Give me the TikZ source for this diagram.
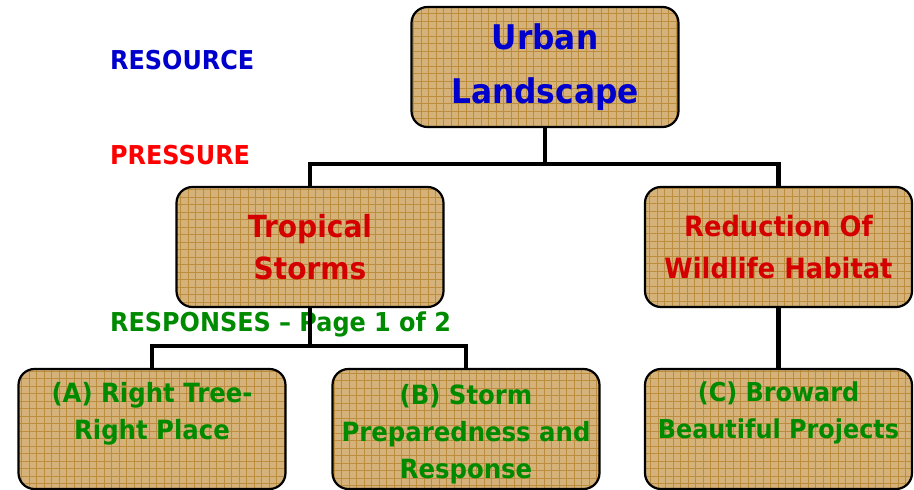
\documentclass[tikz,border=0pt]{standalone}
\usepackage{fontspec}
\setmainfont[FakeStretch=0.92]{DejaVu Sans}
\usetikzlibrary{positioning}

\definecolor{boxFill}{HTML}{D4B27A}
\definecolor{gridColour}{HTML}{BC8D3C}
\definecolor{resBlue}{HTML}{0000CC}
\definecolor{pressRed}{HTML}{FF0000}
\definecolor{boxRed}{HTML}{D40000}
\definecolor{respGreen}{HTML}{008A00}

\tikzset{
    box/.style={draw=black, line width=2.2pt, rounded corners=16pt, fill=boxFill,
        minimum width=267pt, minimum height=120pt, inner sep=0pt, align=center,
        path picture={\draw[gridColour, line width=0.7pt, step=7.5pt]
            (path picture bounding box.south west) grid (path picture bounding box.north east);}},
    conn/.style={line width=4.6pt},
    tagline/.style={anchor=west, inner sep=0pt, font=\bfseries\fontsize{26}{30}\selectfont}
}

\begin{document}
\begin{tikzpicture}[x=1pt, y=-1pt]
    \useasboundingbox (0,0) rectangle (914,490);

    % Side labels
    \node[tagline, resBlue] (resource) at (110,60) {RESOURCE};
    \node[tagline, pressRed] (pressure) at (110,155) {PRESSURE};
    \node[tagline, respGreen] (responses) at (110,324) {RESPONSES -- Page 1 of 2};

    % Resource
    \node[box, text=resBlue, font=\bfseries\fontsize{34}{54}\selectfont] (urban) at (545,67) {Urban\\Landscape};

    % Pressures
    \node[box, text=boxRed, font=\bfseries\fontsize{30.5}{42}\selectfont] (storms) at (310,247) {Tropical\\Storms};
    \node[box, text=boxRed, font=\bfseries\fontsize{28}{42}\selectfont] (habitat) at (778.5,247) {Reduction Of\\Wildlife Habitat};

    % Responses
    \node[box, text=respGreen, font=\bfseries\fontsize{26.5}{37}\selectfont] (treeA) at (152,429) {(A) Right Tree-\\Right Place\\~};
    \node[box, text=respGreen, font=\bfseries\fontsize{26.5}{37}\selectfont] (stormB) at (466,429) {\rule{0pt}{30pt}(B) Storm\\Preparedness and\\Response};
    \node[box, text=respGreen, font=\bfseries\fontsize{26}{37}\selectfont] (browardC) at (778.5,429) {(C) Broward\\Beautiful Projects\\~};

    % Connectors
    \draw[conn] (urban.south) -- ++(0,36) -| (storms.north);
    \draw[conn] (urban.south) -- ++(0,36) -| (habitat.north);
    \draw[conn] (storms.south) -- ++(0,38) -| (treeA.north);
    \draw[conn] (storms.south) -- ++(0,38) -| (stormB.north);
    \draw[conn] (habitat.south) -- (browardC.north);

\end{tikzpicture}
\end{document}
